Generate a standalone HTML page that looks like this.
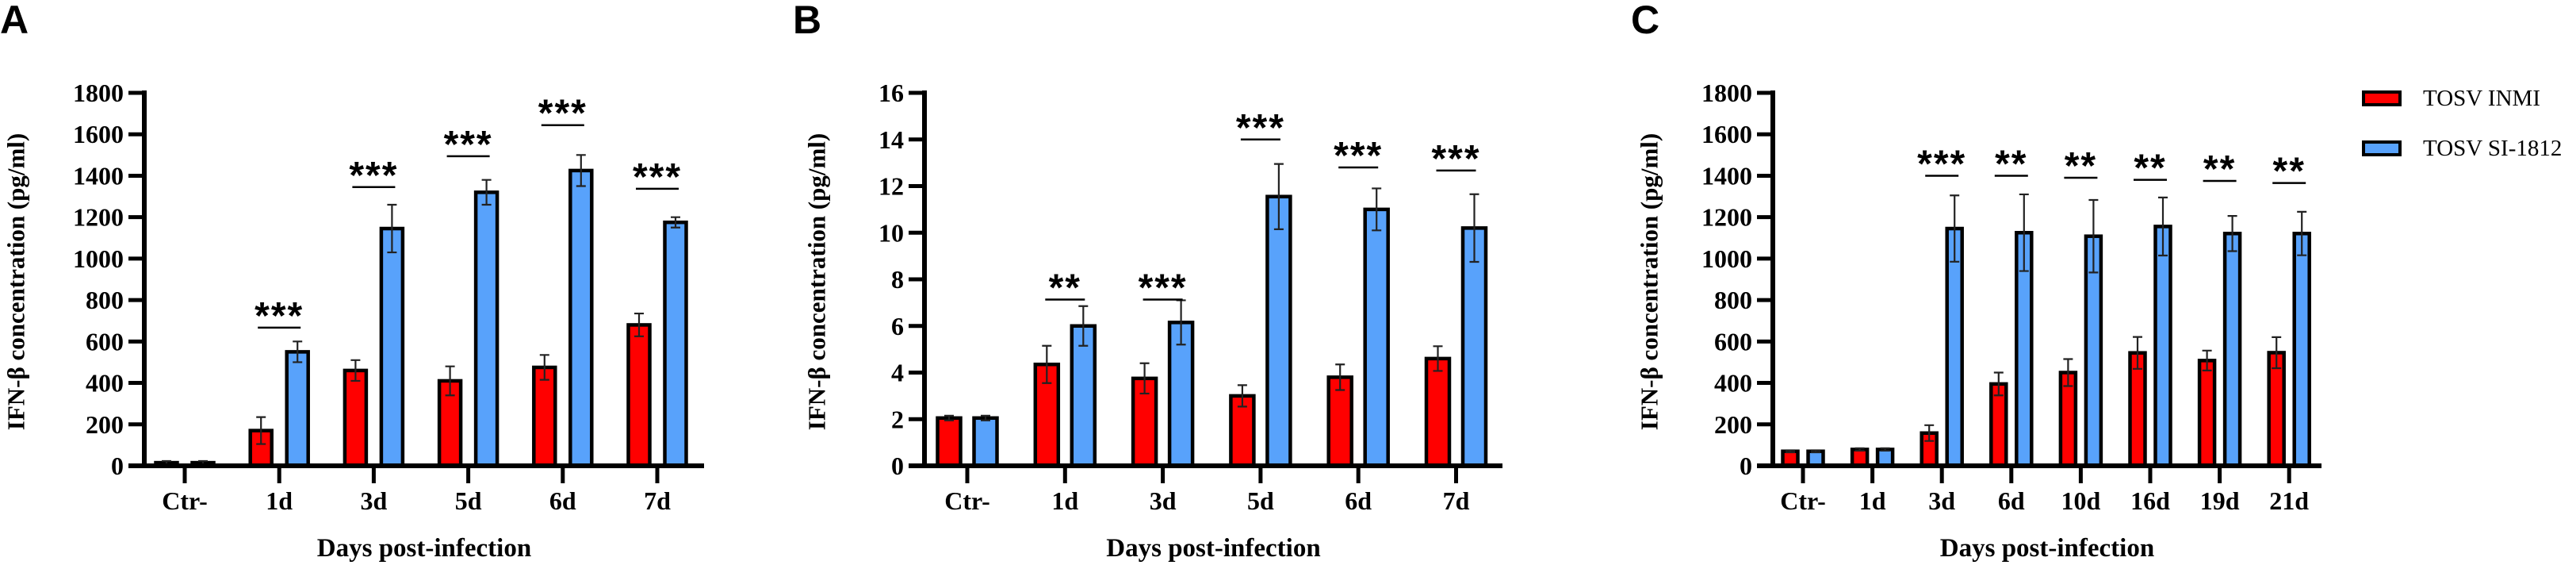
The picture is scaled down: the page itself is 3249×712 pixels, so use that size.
<!DOCTYPE html>
<html><head><meta charset="utf-8"><style>
html,body{margin:0;padding:0;background:#fff;}
svg{display:block;}
</style></head><body>
<svg id="fig" width="3249" height="712" viewBox="0 0 3249 712" xmlns="http://www.w3.org/2000/svg"></svg>
<script>
// Panel A data
const catsA = ["Ctr-","1d","3d","5d","6d","7d"];
const inmiA = [15,170,460,410,475,680];
const inmiErrA = [8,65,50,70,60,55];
const siA = [15,550,1145,1320,1425,1175];
const siErrA = [8,50,115,60,75,25];
const sigA = ["","***","***","***","***","***"];
const sigYA = [0,667,1345,1494,1644,1337];
const ticksA = [0,200,400,600,800,1000,1200,1400,1600,1800];
// Panel B data
const catsB = ["Ctr-","1d","3d","5d","6d","7d"];
const inmiB = [2.05,4.35,3.75,3.0,3.8,4.6];
const inmiErrB = [0.1,0.8,0.65,0.46,0.55,0.53];
const siB = [2.05,6.0,6.15,11.55,11.0,10.2];
const siErrB = [0.1,0.85,0.95,1.4,0.9,1.45];
const sigB = ["","**","***","***","***","***"];
const sigYB = [0,7.13,7.13,14.0,12.8,12.67];
const ticksB = [0,2,4,6,8,10,12,14,16];
// Panel C data
const catsC = ["Ctr-","1d","3d","6d","10d","16d","19d","21d"];
const inmiC = [70,79,158,395,450,545,508,546];
const inmiErrC = [5,6,38,55,65,77,48,75];
const siC = [70,79,1145,1125,1108,1155,1121,1121];
const siErrC = [5,6,160,185,175,140,85,105];
const sigC = ["","","***","**","**","**","**","**"];
const sigYC = [0,0,1400,1400,1390,1380,1375,1365];
const ticksC = [0,200,400,600,800,1000,1200,1400,1600,1800];

const NS = "http://www.w3.org/2000/svg";
const svg = document.getElementById("fig");
function mk(tag, attrs, parent, text){
  const e = document.createElementNS(NS, tag);
  for (const k in attrs) e.setAttribute(k, attrs[k]);
  if (text !== undefined) e.textContent = text;
  (parent || svg).appendChild(e);
  return e;
}
const SERIF = "'Liberation Serif', 'Times New Roman', serif";
const SANS = "'Liberation Sans', Arial, sans-serif";

function drawPanel(p){
  const g = mk("g", {});
  
  
  const y0 = 587, y1 = 117;
  const yScale = v => y0 - (v - p.ymin) / (p.ymax - p.ymin) * (y0 - y1);
  const xScale = i => p.firstX + i * p.step;

  const lt = mk("text", {x:p.letterX, y:42, "font-family":SANS, "font-weight":"bold", "font-size":50, fill:"#000"}, g, p.letter);
  
  

  const yt = mk("text", {x:0, y:0, transform:`translate(${p.yTitleX},355) rotate(-90)`, "text-anchor":"middle", "dominant-baseline":"central", "font-family":SERIF, "font-weight":"bold", "font-size":31, fill:"#000"}, g, "IFN-β concentration (pg/ml)");
  
  

  p.ticks.forEach(t => {
    const yy = yScale(t);
    const tl = mk("line", {x1:p.axisX-20, x2:p.axisX, y1:yy, y2:yy, stroke:"#000", "stroke-width":5}, g);
    
    
    const tx = mk("text", {x:p.axisX-26, y:yy, "text-anchor":"end", "dominant-baseline":"central", "font-family":SERIF, "font-weight":p.tickWeight, "font-size":32, fill:"#000"}, g, String(t));
    
    
  });

  p.cats.forEach((c, i) => {
    const cx = xScale(i);
    [[p.inmi, p.inmiErr, -p.off, "#ff0000", "bar-tosv-inmi-"], [p.si, p.siErr, p.off, "#58a2fb", "bar-tosv-si1812-"]].forEach(s => {
      const v = s[0][i], e = s[1][i], bx = cx + s[2];
      const top = yScale(v);
      const r = mk("rect", {x:bx - p.bw/2, y:top, width:p.bw, height:y0 - top, fill:s[3], stroke:"#000", "stroke-width":4.5}, g);
      
      
      const hi = yScale(v + e), lo = yScale(v - e);
      const eb = mk("path", {d:`M${bx},${hi}V${lo}M${bx-6},${hi}H${bx+6}M${bx-6},${lo}H${bx+6}`, stroke:"#222", "stroke-width":2.2, fill:"none"}, g);
      
      
    });
    const xt = mk("line", {x1:cx, x2:cx, y1:y0, y2:y0+22, stroke:"#000", "stroke-width":5}, g);
    
    
    const xl = mk("text", {x:cx, y:642, "text-anchor":"middle", "font-family":SERIF, "font-weight":"bold", "font-size":32, fill:"#000"}, g, c);
    
    
    if (p.sig[i]) {
      const ly = yScale(p.sigY[i]);
      const sl = mk("line", {x1:cx - p.sigW/2, x2:cx + p.sigW/2, y1:ly, y2:ly, stroke:"#000", "stroke-width":2.5}, g);
      
      
      const st = mk("text", {x:cx, y:ly + 1, "text-anchor":"middle", "font-family":SANS, "font-weight":"bold", "font-size":48, "letter-spacing":2, fill:"#000"}, g, p.sig[i]);
      
      
    }
  });

  const ya = mk("line", {x1:p.axisX, x2:p.axisX, y1:y1-3, y2:y0+3, stroke:"#000", "stroke-width":6}, g);
  
  
  const xa = mk("line", {x1:p.axisX-20, x2:p.axisEnd, y1:y0, y2:y0, stroke:"#000", "stroke-width":6}, g);
  
  

  const xtitle = mk("text", {x:(p.axisX + p.axisEnd)/2, y:701, "text-anchor":"middle", "font-family":SERIF, "font-weight":"bold", "font-size":33, fill:"#000"}, g, "Days post-infection");
  
  
}

drawPanel({name:"panel-a", letter:"A", letterX:0, yTitleX:20, axisX:182, axisEnd:888, firstX:233, step:119.2, bw:27, off:23, sigW:54, ymin:0, ymax:1800, ticks:ticksA, cats:catsA, inmi:inmiA, inmiErr:inmiErrA, si:siA, siErr:siErrA, sig:sigA, sigY:sigYA, tickWeight:"bold"});
drawPanel({name:"panel-b", letter:"B", letterX:1000, yTitleX:1030, axisX:1166, axisEnd:1895, firstX:1220, step:123.3, bw:29, off:23, sigW:50, ymin:0, ymax:16, ticks:ticksB, cats:catsB, inmi:inmiB, inmiErr:inmiErrB, si:siB, siErr:siErrB, sig:sigB, sigY:sigYB, tickWeight:"bold"});
drawPanel({name:"panel-c", letter:"C", letterX:2057, yTitleX:2080, axisX:2236, axisEnd:2928, firstX:2274, step:87.6, bw:19, off:16, sigW:42, ymin:0, ymax:1800, ticks:ticksC, cats:catsC, inmi:inmiC, inmiErr:inmiErrC, si:siC, siErr:siErrC, sig:sigC, sigY:sigYC, tickWeight:"bold"});

const lg = mk("g", {});


const legendLabels = ["TOSV INMI","TOSV SI-1812"];
const legendColors = ["#ff0000","#58a2fb"];
legendLabels.forEach((lab, i) => {
  const cy = 124 + i * 63;
  const sw = mk("rect", {x:2981, y:cy-8, width:46, height:16, fill:legendColors[i], stroke:"#000", "stroke-width":4}, lg);
  
  
  const t = mk("text", {x:3056, y:cy, "dominant-baseline":"central", "font-family":SERIF, "font-size":29, fill:"#000"}, lg, lab);
  
  
});
</script>
</body></html>
